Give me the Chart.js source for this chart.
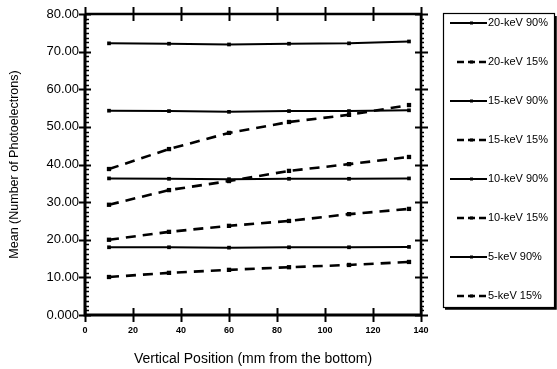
<!DOCTYPE html>
<html>
<head>
<meta charset="utf-8">
<script src="https://cdn.jsdelivr.net/npm/chart.js@4.4.1/dist/chart.umd.min.js"></script>
<style>
  html, body { margin: 0; padding: 0; background: #fff; }
  #wrap { width: 557px; height: 369px; }
</style>
</head>
<body>
<div id="wrap"><canvas id="chart"></canvas></div>
<script>
// Data
const positions = [10, 35, 60, 85, 110, 135];
const seriesLabels = ['20-keV 90%', '20-keV 15%', '15-keV 90%', '15-keV 15%',
                      '10-keV 90%', '10-keV 15%', '5-keV 90%', '5-keV 15%'];
const kev20_90 = [72.2, 72.1, 71.9, 72.1, 72.2, 72.7];
const kev20_15 = [38.8, 44.1, 48.4, 51.3, 53.2, 55.8];
const kev15_90 = [54.3, 54.2, 54.0, 54.2, 54.2, 54.4];
const kev15_15 = [29.3, 33.2, 35.6, 38.3, 40.1, 42.0];
const kev10_90 = [36.3, 36.2, 36.1, 36.2, 36.2, 36.3];
const kev10_15 = [20.0, 22.1, 23.7, 25.0, 26.8, 28.2];
const kev5_90  = [18.0, 18.0, 17.9, 18.0, 18.0, 18.1];
const kev5_15  = [10.1, 11.2, 12.0, 12.7, 13.3, 14.1];
const seriesValues = [kev20_90, kev20_15, kev15_90, kev15_15, kev10_90, kev10_15, kev5_90, kev5_15];

const FONT = 'Liberation Sans, Arial, sans-serif';

function toPoints(vals) {
  return vals.map((v, i) => ({ x: positions[i], y: v }));
}

const datasets = seriesLabels.map((lab, i) => {
  const dashed = lab.endsWith('15%');
  return {
    label: lab,
    data: toPoints(seriesValues[i]),
    borderColor: '#000',
    backgroundColor: '#000',
    borderWidth: dashed ? 2.6 : 2,
    borderDash: dashed ? [10, 7] : [],
    pointRadius: 1.2,
    pointStyle: 'rect',
    tension: 0
  };
});

// axis frame, crossing ticks and the boxed legend
const framePlugin = {
  id: 'frame',
  afterDraw(chart) {
    const { ctx, chartArea: a, scales } = chart;
    const xs = scales.x, ys = scales.y;
    ctx.save();
    ctx.strokeStyle = '#000';
    ctx.lineCap = 'butt';

    // minor ticks y
    ctx.lineWidth = 1.5;
    for (let v = 0; v <= 80; v += 1.25) {
      if (v % 10 === 0) continue;
      const py = Math.round(ys.getPixelForValue(v)) + 0.5;
      ctx.beginPath();
      ctx.moveTo(a.left, py); ctx.lineTo(a.left + 4, py);
      ctx.moveTo(a.right - 1, py); ctx.lineTo(a.right + 3, py);
      ctx.stroke();
    }
    // major ticks y
    ctx.lineWidth = 2;
    for (let v = 0; v <= 80; v += 10) {
      const py = Math.round(ys.getPixelForValue(v)) + 0.5;
      ctx.beginPath();
      ctx.moveTo(a.left - 6, py); ctx.lineTo(a.left + 6, py);
      ctx.moveTo(a.right - 6, py); ctx.lineTo(a.right + 7, py);
      ctx.stroke();
    }
    // major ticks x
    for (let v = 0; v <= 140; v += 20) {
      const px = Math.round(xs.getPixelForValue(v)) + 0.5;
      ctx.beginPath();
      ctx.moveTo(px, a.bottom - 7); ctx.lineTo(px, a.bottom + 7);
      ctx.moveTo(px, a.top - 7); ctx.lineTo(px, a.top + 7);
      ctx.stroke();
    }
    // frame
    ctx.lineWidth = 3;
    ctx.beginPath();
    ctx.moveTo(a.left, a.top); ctx.lineTo(a.left, a.bottom); ctx.lineTo(a.right, a.bottom);
    ctx.stroke();
    ctx.lineWidth = 2.5;
    ctx.beginPath();
    ctx.moveTo(a.left, a.top); ctx.lineTo(a.right, a.top); ctx.lineTo(a.right, a.bottom);
    ctx.stroke();

    // legend box
    const bx = 443, by = 13, bw = 111, bh = 294;
    ctx.lineWidth = 1.2;
    ctx.strokeRect(bx + 0.5, by + 0.5, bw, bh);
    ctx.lineWidth = 2.5;
    ctx.beginPath();
    ctx.moveTo(bx + 2, by + bh + 1.5); ctx.lineTo(bx + bw + 1.5, by + bh + 1.5); ctx.lineTo(bx + bw + 1.5, by + 3);
    ctx.stroke();

    ctx.font = '11px ' + FONT;
    ctx.fillStyle = '#000';
    ctx.textBaseline = 'middle';
    chart.data.datasets.forEach((ds, i) => {
      const y = 23 + i * 39;
      const dashed = ds.borderDash.length > 0;
      ctx.lineWidth = dashed ? 2.4 : 2;
      ctx.setLineDash(dashed ? [7, 4] : []);
      ctx.beginPath();
      ctx.moveTo(dashed ? 457 : 450, y); ctx.lineTo(487, y);
      ctx.stroke();
      ctx.setLineDash([]);
      ctx.fillRect(470, y - 1.5, 3, 3);
      ctx.fillText(ds.label, 488, y);
    });
    ctx.restore();
  }
};

new Chart(document.getElementById('chart'), {
  type: 'line',
  data: { datasets },
  options: {
    responsive: true,
    maintainAspectRatio: false,
    animation: false,
    layout: { padding: { top: 14, right: 136, left: 0, bottom: 0 } },
    plugins: { legend: { display: false }, tooltip: { enabled: false } },
    scales: {
      x: {
        type: 'linear',
        min: 0, max: 140,
        grid: { display: false, drawTicks: false },
        border: { display: false },
        afterFit: s => { s.height = 54; },
        ticks: {
          stepSize: 20, padding: 10,
          color: '#000',
          font: { family: FONT, size: 9, weight: 'bold' }
        },
        title: {
          display: true,
          text: 'Vertical Position (mm from the bottom)',
          color: '#000',
          font: { family: FONT, size: 14 },
          padding: { top: 0, bottom: 1 }
        }
      },
      y: {
        min: 0, max: 80,
        grid: { display: false, drawTicks: false },
        border: { display: false },
        afterFit: s => { s.width = 85; },
        ticks: {
          stepSize: 10, padding: 6,
          color: '#000',
          font: { family: FONT, size: 13 },
          callback: v => v === 0 ? '0.000' : v.toFixed(2)
        },
        title: {
          display: true,
          text: 'Mean (Number of Photoelectrons)',
          color: '#000',
          font: { family: FONT, size: 12.5 },
          padding: { top: 7, bottom: 0 }
        }
      }
    }
  },
  plugins: [framePlugin]
});
</script>
</body>
</html>
